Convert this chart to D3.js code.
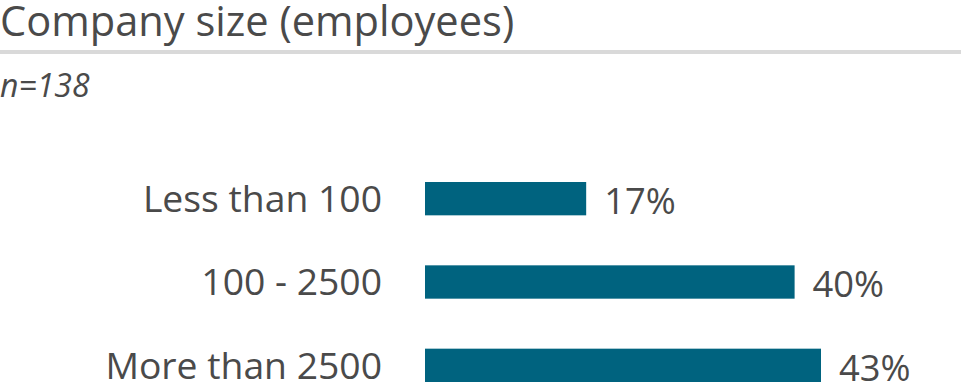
<!DOCTYPE html>
<html>
<head>
<meta charset="utf-8">
<script src="https://cdn.jsdelivr.net/npm/d3@7"></script>
<style>
  html, body { margin: 0; padding: 0; background: #fff; }
  svg { display: block; font-family: "Open Sans", sans-serif; }
</style>
</head>
<body>
<svg id="chart" width="961" height="392"></svg>
<script>
const title = "Company size (employees)";
const subtitle = "n=138";
const categories = ["Less than 100", "100 - 2500", "More than 2500"];
const values = [17.4, 39.9, 42.75];
const valueLabels = ["17%", "40%", "43%"];

const svg = d3.select("#chart");
const W = 961, H = 392;
const textColor = "#4a4a4a";
const barColor = "#00637f";

svg.append("text")
  .attr("x", 0).attr("y", 36)
  .attr("font-size", 41.6)
  .attr("fill", textColor)
  .text(title);

svg.append("rect")
  .attr("x", 0).attr("y", 50).attr("width", W).attr("height", 4)
  .attr("fill", "#d9d9d9");

svg.append("text")
  .attr("x", 0).attr("y", 97)
  .attr("font-size", 32)
  .attr("font-style", "italic")
  .attr("fill", textColor)
  .text(subtitle);

const x = d3.scaleLinear().domain([0, 42.75]).range([425, 821]);
const y = d3.scaleBand().domain(categories).range([182, 382]).paddingInner(0.6).paddingOuter(0);

const data = categories.map((c, i) => ({ cat: c, v: values[i], label: valueLabels[i] }));

svg.selectAll("rect.bar").data(data).enter().append("rect")
  .attr("class", "bar")
  .attr("x", x(0))
  .attr("y", d => y(d.cat))
  .attr("width", d => x(d.v) - x(0))
  .attr("height", y.bandwidth())
  .attr("fill", barColor);

svg.selectAll("text.cat").data(data).enter().append("text")
  .attr("class", "cat")
  .attr("x", 382)
  .attr("y", d => y(d.cat) + y.bandwidth() / 2)
  .attr("dy", "0.36em")
  .attr("text-anchor", "end")
  .attr("font-size", 37.3)
  .attr("fill", textColor)
  .text(d => d.cat);

svg.selectAll("text.val").data(data).enter().append("text")
  .attr("class", "val")
  .attr("x", d => x(d.v) + 18)
  .attr("y", d => y(d.cat) + y.bandwidth() / 2)
  .attr("dy", "0.42em")
  .attr("font-size", 36.3)
  .attr("fill", textColor)
  .text(d => d.label);
</script>
</body>
</html>
